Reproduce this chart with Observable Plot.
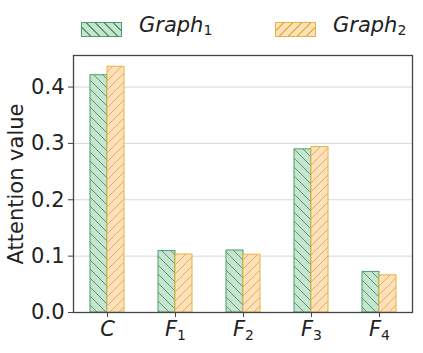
<!DOCTYPE html>
<html><head><meta charset="utf-8">
<script src="https://cdn.jsdelivr.net/npm/d3@7"></script>
<script src="https://cdn.jsdelivr.net/npm/@observablehq/plot@0.6"></script>
<style>
body{margin:0;background:#fff;font-family:"DejaVu Sans",sans-serif;width:423px;height:353px;overflow:hidden;}
#legend{height:53px;position:relative;font-size:21px;color:#222;}
.sw{position:absolute;top:22px;width:41px;height:15px;box-sizing:border-box;}
.lt{position:absolute;top:13px;font-style:italic;white-space:nowrap;}
.lt sub{font-style:normal;font-size:14px;vertical-align:-3px;}
#chart svg g[aria-label="y-axis tick label"] text,
#chart svg g[aria-label="x-axis tick label"] text{font-size:21px;}
#chart svg g[aria-label="y-axis label"] text{font-size:21px;}
</style></head><body>
<div id="legend"></div><div id="chart"></div>
<script>
const categories = ["C","F1","F2","F3","F4"];
const graph1 = [0.421,0.109,0.110,0.2895,0.072];
const graph2 = [0.436,0.103,0.1025,0.2935,0.066];
const seriesNames = ["Graph1","Graph2"];
const yTicks = [0.0,0.1,0.2,0.3,0.4];

const d1 = categories.map((c,i)=>({cat:c, v:graph1[i]}));
const d2 = categories.map((c,i)=>({cat:c, v:graph2[i]}));

const green = {fill:"#c7e4d1", line:"#4f9d6b"};
const orange = {fill:"#fde0bd", line:"#e8b23f"};

const plot = Plot.plot({
  width:423, height:300,
  marginLeft:73, marginRight:11, marginTop:2, marginBottom:41,
  style:{fontFamily:"DejaVu Sans", fontSize:"21px", color:"#222", background:"#fff"},
  x:{domain:categories, paddingInner:0.5, paddingOuter:0.225},
  y:{domain:[0,0.456]},
  marks:[
    Plot.gridY(yTicks,{stroke:"#d8d8d8", strokeOpacity:1, strokeWidth:1}),
    Plot.barY(d1,{x:"cat", y:"v", fill:"url(#hatchG)", stroke:green.line, strokeWidth:1, insetRight:17}),
    Plot.barY(d2,{x:"cat", y:"v", fill:"url(#hatchO)", stroke:orange.line, strokeWidth:1, insetLeft:17}),
    Plot.axisY(yTicks,{tickFormat:d=>d.toFixed(1), tickSize:5, tickPadding:4, fontSize:21, stroke:"#444",
      label:"Attention value", labelAnchor:"center", labelArrow:"none", labelOffset:65}),
    Plot.axisX({tickSize:5, tickPadding:4, fontSize:21, stroke:"#444", label:null}),
    Plot.frame({stroke:"#444", strokeWidth:1.3})
  ]
});

// hatch patterns
const ns = "http://www.w3.org/2000/svg";
const defs = document.createElementNS(ns,"defs");
defs.innerHTML = `
<pattern id="hatchG" patternUnits="userSpaceOnUse" width="9" height="9">
  <rect width="9" height="9" fill="${green.fill}"/>
  <path d="M0,0 L9,9 M-3,6 L3,12 M6,-3 L12,3" stroke="${green.line}" stroke-width="1"/>
</pattern>
<pattern id="hatchO" patternUnits="userSpaceOnUse" width="9" height="9">
  <rect width="9" height="9" fill="${orange.fill}"/>
  <path d="M0,9 L9,0 M-3,3 L3,-3 M6,12 L12,6" stroke="${orange.line}" stroke-width="1"/>
</pattern>`;
plot.insertBefore(defs, plot.firstChild);

// subscripted italic tick labels
d3.select(plot).selectAll('g[aria-label="x-axis tick label"] text').each(function(){
  const t = this.textContent;
  const base = t[0], sub = t.slice(1);
  this.textContent = "";
  const s = d3.select(this);
  s.append("tspan").attr("font-style","italic").text(base);
  if (sub) s.append("tspan").attr("font-size","14px").attr("dy","4").text(sub);
});

document.getElementById("chart").appendChild(plot);

// legend
const lg = document.getElementById("legend");
const sw = [{c:green, x:81, dir:"45deg", txt:seriesNames[0], tx:139},{c:orange, x:275, dir:"-45deg", txt:seriesNames[1], tx:333}];
sw.forEach(s=>{
  const d = document.createElement("div");
  d.className="sw"; d.style.left=s.x+"px";
  d.style.border=`1px solid ${s.c.line}`;
  d.style.background=`repeating-linear-gradient(${s.dir}, ${s.c.fill} 0px, ${s.c.fill} 5.4px, ${s.c.line} 5.4px, ${s.c.line} 6.4px)`;
  lg.appendChild(d);
  const t = document.createElement("div");
  t.className="lt"; t.style.left=s.tx+"px";
  t.innerHTML = s.txt.slice(0,-1)+"<sub>"+s.txt.slice(-1)+"</sub>";
  lg.appendChild(t);
});
</script>
</body></html>
